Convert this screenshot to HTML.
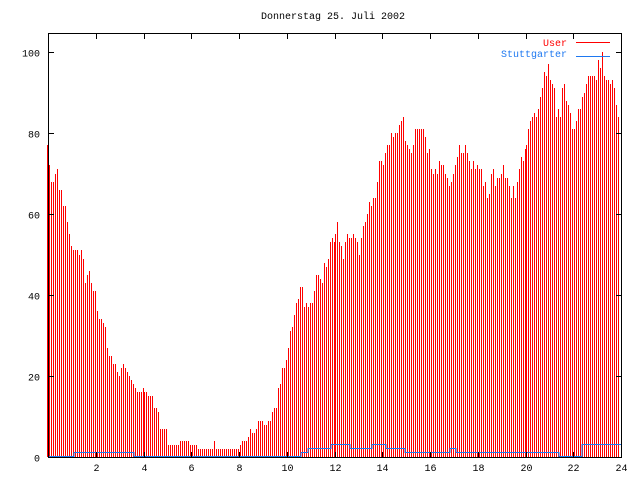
<!DOCTYPE html>
<html><head><meta charset="utf-8"><style>
html,body{margin:0;padding:0;background:#fff;}
svg{display:block;}
text{font-family:"Liberation Mono","DejaVu Sans Mono",monospace;font-size:10px;}
</style></head><body>
<svg id="s" width="640" height="480" xmlns="http://www.w3.org/2000/svg" shape-rendering="crispEdges">
<rect x="0" y="0" width="640" height="480" fill="#fff"/>
<text x="333" y="19" text-anchor="middle" fill="#000">Donnerstag 25. Juli 2002</text>
<g id="bars" stroke="#ff0000" stroke-width="1"></g>
<polyline id="blue" fill="none" stroke="#1e78f0" stroke-width="1"/>
<g id="axes" stroke="#000" stroke-width="1"></g>
<g id="lbl" fill="#000"></g>
<text x="567" y="46" text-anchor="end" fill="#ff0000">User</text>
<line x1="576" y1="42.5" x2="610" y2="42.5" stroke="#ff0000"/>
<text x="567" y="57" text-anchor="end" fill="#1e78f0">Stuttgarter</text>
<line x1="576" y1="56.5" x2="610" y2="56.5" stroke="#1e78f0"/>
</svg>
<script>
var d=[77,72,68,68,70,71,66,66,62,62,58,55,
52,51,51,51,50,51,49,43,45,46,43,41,
41,36,34,34,33,32,27,25,25,23,23,21,
20,22,23,22,21,20,19,18,17,16,16,16,
17,16,16,15,15,15,12,12,11,7,7,7,
7,3,3,3,3,3,3,4,4,4,4,4,
3,3,3,3,2,2,2,2,2,2,2,2,
4,2,2,2,2,2,2,2,2,2,2,2,
2,3,4,4,4,5,7,6,6,7,9,9,
9,8,8,9,9,11,12,12,17,18,22,22,
24,27,31,32,35,38,39,42,42,37,38,37,
38,38,41,45,45,44,43,48,47,49,53,54,
53,55,58,53,52,49,53,55,54,54,55,54,
53,50,54,57,58,60,63,62,64,64,68,73,
73,72,75,77,77,80,79,80,80,82,83,84,
78,77,76,75,77,81,81,81,81,81,79,75,
76,71,70,71,70,73,72,72,70,69,67,68,
70,72,74,77,75,75,77,75,73,71,73,71,
72,71,71,67,68,64,65,70,71,67,69,69,
70,72,69,69,67,64,67,64,68,71,74,73,
76,77,81,83,84,85,84,86,89,91,95,94,
97,93,92,91,84,86,84,91,92,88,87,85,
81,81,83,86,86,89,90,92,94,94,94,94,
93,98,96,100,94,93,93,92,93,91,87,84];
var NS="http://www.w3.org/2000/svg";
function X(h){return 48+h*23.875;}
function Y(v){return 457-v*4.05;}
function el(p,t,a){var e=document.createElementNS(NS,t);for(var k in a)e.setAttribute(k,a[k]);p.appendChild(e);return e;}
var bars=document.getElementById('bars');
for(var i=0;i<d.length;i++){var x=Math.round(47+i*573/288)+0.5;el(bars,'line',{x1:x,y1:Math.round(Y(d[i])),x2:x,y2:457});}
var st=[[0,0],[1.1,1],[3.6,0],[10.6,1],[10.9,2],[11.85,3],[12.65,2],[13.55,3],[14.15,2],[14.95,1],[16.85,2],[17.1,1],[21.4,0],[22.35,3],[24,3]];
var pts=[];for(var j=0;j<st.length-1;j++){var yy=Math.round(Y(st[j][1]))-0.5;pts.push(Math.round(X(st[j][0]))+','+yy);pts.push(Math.round(X(st[j+1][0]))+','+yy);}
document.getElementById('blue').setAttribute('points',pts.join(' '));
var ax=document.getElementById('axes'),lb=document.getElementById('lbl');
el(ax,'rect',{x:48.5,y:33.5,width:573,height:424,fill:'none'});
for(var h=2;h<=24;h+=2){var x=Math.round(X(h))+0.5;
 if(h<24){el(ax,'line',{x1:x,y1:457,x2:x,y2:452});el(ax,'line',{x1:x,y1:34,x2:x,y2:39});}
 var t=el(lb,'text',{x:x,y:471,'text-anchor':'middle'});t.textContent=h;}
for(var v=0;v<=100;v+=20){var y=Math.round(Y(v))+0.5;
 el(ax,'line',{x1:49,y1:y,x2:54,y2:y});el(ax,'line',{x1:621,y1:y,x2:616,y2:y});
 var t=el(lb,'text',{x:40,y:y+4,'text-anchor':'end'});t.textContent=v;}
</script>
</body></html>
